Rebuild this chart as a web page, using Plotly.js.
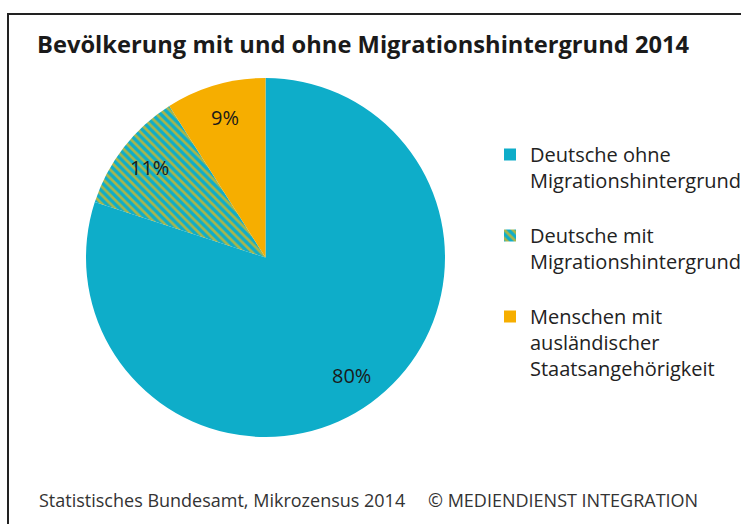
<!DOCTYPE html>
<html>
<head>
<meta charset="utf-8">
<script src="https://cdn.plot.ly/plotly-3.0.1.min.js"></script>
<style>
  html, body { margin: 0; padding: 0; background: #fff; }
  #wrap { position: relative; width: 741px; height: 524px; overflow: hidden; }
  #chart { width: 741px; height: 524px; }
  #frame { position: absolute; left: 7px; top: 13px; right: -5px; bottom: -5px;
           border-top: 2px solid #222; border-left: 2px solid #222; pointer-events: none; }
</style>
</head>
<body>
<div id="wrap">
  <div id="chart"></div>
  <div id="frame"></div>
</div>
<script>
const categories = [
  "Deutsche ohne<br>Migrationshintergrund",
  "Deutsche mit<br>Migrationshintergrund",
  "Menschen mit<br>ausländischer<br>Staatsangehörigkeit"
];
const shares = [80, 11, 9];
const sliceColors = ["#0EADC9", "#0EADC9", "#F6AE00"];
const patternShapes = ["", "\\", ""];
const patternColors = ["#0EADC9", "#A9B64A", "#F6AE00"];

const FONT = "'Open Sans', 'Noto Sans', sans-serif";
const W = 741, H = 524;
const CX = 265.5, CY = 257.5, R = 179.5;   // target pie centre / radius (px)

// legend spacing: a blank line after each entry
const legendLabels = categories.map(c => c + "<br> ");

const trace = {
  type: "pie",
  labels: legendLabels,
  values: shares,
  sort: false,
  direction: "clockwise",
  rotation: 0,
  textinfo: "none",
  marker: {
    colors: sliceColors,
    line: { width: 0 },
    pattern: {
      shape: patternShapes,
      fgcolor: patternColors,
      bgcolor: sliceColors,
      size: 6,
      solidity: 0.45,
      fillmode: "replace"
    }
  },
  domain: {
    x: [(CX - R) / W, (CX + R) / W],
    y: [(H - CY - R) / H, (H - CY + R) / H]
  },
  hoverinfo: "percent"
};

// percentage labels placed along each slice's mid-angle, derived from the data
const total = shares.reduce((a, b) => a + b, 0);
let cum = 0;
const pctAnnotations = shares.map(v => {
  const mid = (cum + v / 2) / total * 2 * Math.PI;
  cum += v;
  const rr = 0.815 * R;
  return {
    text: Math.round(v / total * 100) + "%",
    xref: "paper", yref: "paper",
    x: (CX + rr * Math.sin(mid)) / W,
    y: (H - CY + rr * Math.cos(mid)) / H,
    xanchor: "center", yanchor: "middle", showarrow: false,
    font: { family: FONT, size: 20, color: "#1a1a1a" }
  };
});

const layout = {
  width: W,
  height: H,
  margin: { l: 0, r: 0, t: 0, b: 0, autoexpand: false },
  paper_bgcolor: "#fff",
  showlegend: true,
  title: {
    text: "<b>Bevölkerung mit und ohne Migrationshintergrund 2014</b>",
    x: 37 / W, xanchor: "left", xref: "container",
    y: 1 - 45 / H, yanchor: "middle", yref: "container",
    font: { family: FONT, size: 23.7, color: "#1a1a1a" }
  },
  legend: {
    x: 490 / W, xanchor: "left",
    y: 1 - 135 / H, yanchor: "top",
    valign: "top",
    font: { family: FONT, size: 20, color: "#222" },
    bgcolor: "rgba(0,0,0,0)"
  },
  annotations: pctAnnotations.concat([
    {
      text: "Statistisches Bundesamt, Mikrozensus 2014",
      xref: "paper", yref: "paper", x: 37 / W, y: 1 - 500 / H,
      xanchor: "left", yanchor: "middle", showarrow: false,
      font: { family: FONT, size: 18, color: "#333" }
    },
    {
      text: "© MEDIENDIENST INTEGRATION",
      xref: "paper", yref: "paper", x: 426 / W, y: 1 - 500 / H,
      xanchor: "left", yanchor: "middle", showarrow: false,
      font: { family: FONT, size: 18, color: "#333" }
    }
  ])
};

Plotly.newPlot("chart", [trace], layout, { displayModeBar: false, staticPlot: true });
</script>
</body>
</html>
